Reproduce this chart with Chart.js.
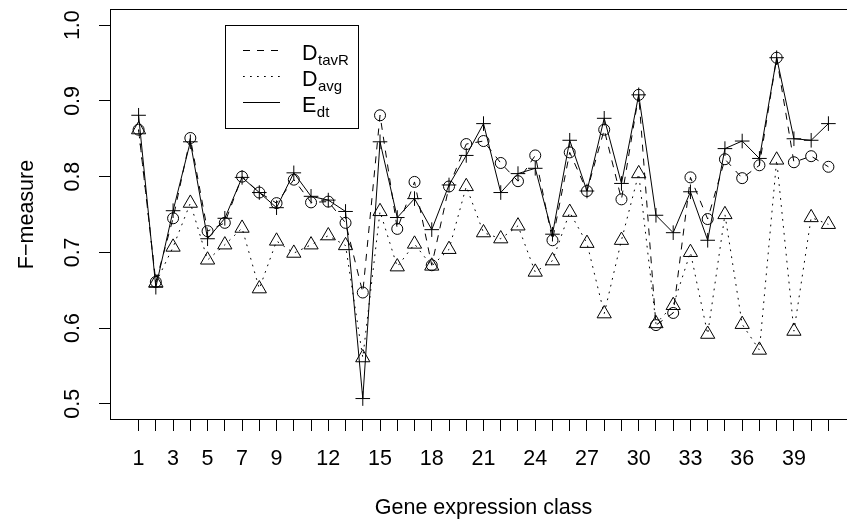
<!DOCTYPE html>
<html><head><meta charset="utf-8">
<script src="https://cdn.jsdelivr.net/npm/chart.js@4.4.1/dist/chart.umd.min.js"></script>
<style>
html,body{margin:0;padding:0;overflow:hidden;background:#fff;width:847px;height:525px}
canvas{display:block}
</style>
</head><body>
<canvas id="c" width="880" height="525"></canvas>
<script>
const classes = [1,2,3,4,5,6,7,8,9,10,11,12,13,14,15,16,17,18,19,20,21,22,23,24,25,26,27,28,29,30,31,32,33,34,35,36,37,38,39,40,41];
const xTickLabels = ['1','3','5','7','9','12','15','18','21','24','27','30','33','36','39'];
const yTickValues = [0.5,0.6,0.7,0.8,0.9,1.0];

const dTavR = [0.862,0.661,0.745,0.851,0.728,0.739,0.800,0.779,0.765,0.796,0.766,0.767,0.739,0.647,0.881,0.731,0.793,0.683,0.787,0.843,0.847,0.818,0.794,0.828,0.716,0.832,0.781,0.862,0.770,0.908,0.604,0.620,0.799,0.744,0.823,0.798,0.815,0.957,0.819,0.827,0.813];
const dAvg  = [0.862,0.660,0.707,0.765,0.690,0.710,0.732,0.652,0.715,0.699,0.710,0.722,0.709,0.561,0.754,0.681,0.711,0.682,0.704,0.787,0.726,0.718,0.735,0.674,0.689,0.753,0.712,0.619,0.716,0.804,0.606,0.630,0.700,0.592,0.750,0.605,0.571,0.822,0.596,0.746,0.737];
const eDt   = [0.881,0.654,0.755,0.846,0.718,0.745,0.799,0.779,0.759,0.805,0.774,0.769,0.754,0.507,0.846,0.746,0.771,0.730,0.789,0.828,0.870,0.779,0.804,0.811,0.724,0.848,0.781,0.877,0.791,0.908,0.749,0.726,0.780,0.716,0.837,0.847,0.824,0.957,0.850,0.848,0.870];

const legendBase = ['D','D','E'];
const legendSub  = ['tavR','avg','dt'];
const xTitle = 'Gene expression class';
const yTitle = 'F\u2212measure';

const FAMILY = "'Liberation Sans', Arial, Helvetica, sans-serif";
const FS = 21.5;
const DASHES = [[7,7],[1.75,5.25],[]];

function pts(arr){ return classes.map((x,i)=>({x:x, y:arr[i]})); }

function ds(label, arr, dash, style, radius){
  return {label:label, data:pts(arr), borderColor:'#000', borderWidth:1, borderDash:dash,
    pointStyle:style, pointRadius:radius, pointHoverRadius:radius, pointBorderColor:'#000',
    pointBackgroundColor:'rgba(0,0,0,0)', pointBorderWidth:1, tension:0, fill:false};
}

const boxAndLegend = {
  id:'boxAndLegend',
  afterDraw(chart){
    const ctx = chart.ctx, a = chart.chartArea;
    ctx.save();
    ctx.strokeStyle = '#000'; ctx.lineWidth = 1; ctx.setLineDash([]);
    ctx.strokeRect(Math.round(a.left)-0.5, Math.round(a.top)-0.5, Math.round(a.right-a.left)+1, Math.round(a.bottom-a.top)+1);
    // legend
    const bx = 225, by = 25, bw = 133, bh = 103;
    ctx.strokeRect(bx+0.5, by+0.5, bw, bh);
    const rowsY = [50, 76, 102];
    for (let i=0;i<3;i++){
      const y = rowsY[i];
      ctx.setLineDash(DASHES[i]);
      ctx.beginPath(); ctx.moveTo(243, y+0.5); ctx.lineTo(280, y+0.5); ctx.stroke();
      ctx.setLineDash([]);
      ctx.fillStyle = '#000';
      ctx.textBaseline = 'alphabetic'; ctx.textAlign = 'left';
      ctx.font = FS + 'px ' + FAMILY;
      const tx = 302, ty = y + 10;
      ctx.fillText(legendBase[i], tx, ty);
      const w = ctx.measureText(legendBase[i]).width;
      ctx.font = '15px ' + FAMILY;
      ctx.fillText(legendSub[i], tx + w + 0.5, ty + 5);
    }
    ctx.restore();
  }
};

const tickGrid = {display:true, drawOnChartArea:false, drawTicks:true, tickLength:12, color:'#000', lineWidth:1};

new Chart(document.getElementById('c'), {
  type:'line',
  data:{ datasets:[
    ds('DtavR', dTavR, DASHES[0], 'circle', 5.5),
    ds('Davg', dAvg, DASHES[1], 'triangle', 8.2),
    ds('Edt', eDt, DASHES[2], 'cross', 7.3)
  ]},
  options:{
    responsive:false, animation:false, devicePixelRatio:1,
    layout:{padding:{left:0, top:10, right:24, bottom:0}},
    plugins:{legend:{display:false}, tooltip:{enabled:false}},
    scales:{
      x:{type:'linear', min:-0.6, max:42.6,
        afterBuildTicks:(s)=>{ s.ticks = classes.map(v=>({value:v})); },
        afterFit:(s)=>{ s.height = 106; s.paddingLeft = 0; s.paddingRight = 0; },
        grid:tickGrid, border:{display:false},
        ticks:{autoSkip:false, minRotation:0, maxRotation:0, padding:15, color:'#000',
          font:{family:FAMILY, size:FS},
          callback:(v)=> xTickLabels.includes(String(v)) ? String(v) : ''},
        title:{display:true, text:xTitle, color:'#000', font:{family:FAMILY, size:FS}, padding:{top:0, bottom:4}}
      },
      y:{type:'linear', min:0.48, max:1.02,
        afterBuildTicks:(s)=>{ s.ticks = yTickValues.map(v=>({value:v})); },
        afterFit:(s)=>{ s.width = 111; s.paddingTop = 0; s.paddingBottom = 0; },
        grid:tickGrid, border:{display:false},
        ticks:{autoSkip:false, minRotation:90, maxRotation:90, crossAlign:'center', padding:10.5, color:'#000',
          font:{family:FAMILY, size:FS},
          callback:(v)=> Number(v).toFixed(1)},
        title:{display:true, text:yTitle, color:'#000', font:{family:FAMILY, size:FS}, padding:{top:14, bottom:0}}
      }
    }
  },
  plugins:[boxAndLegend]
});
</script>
</body></html>
